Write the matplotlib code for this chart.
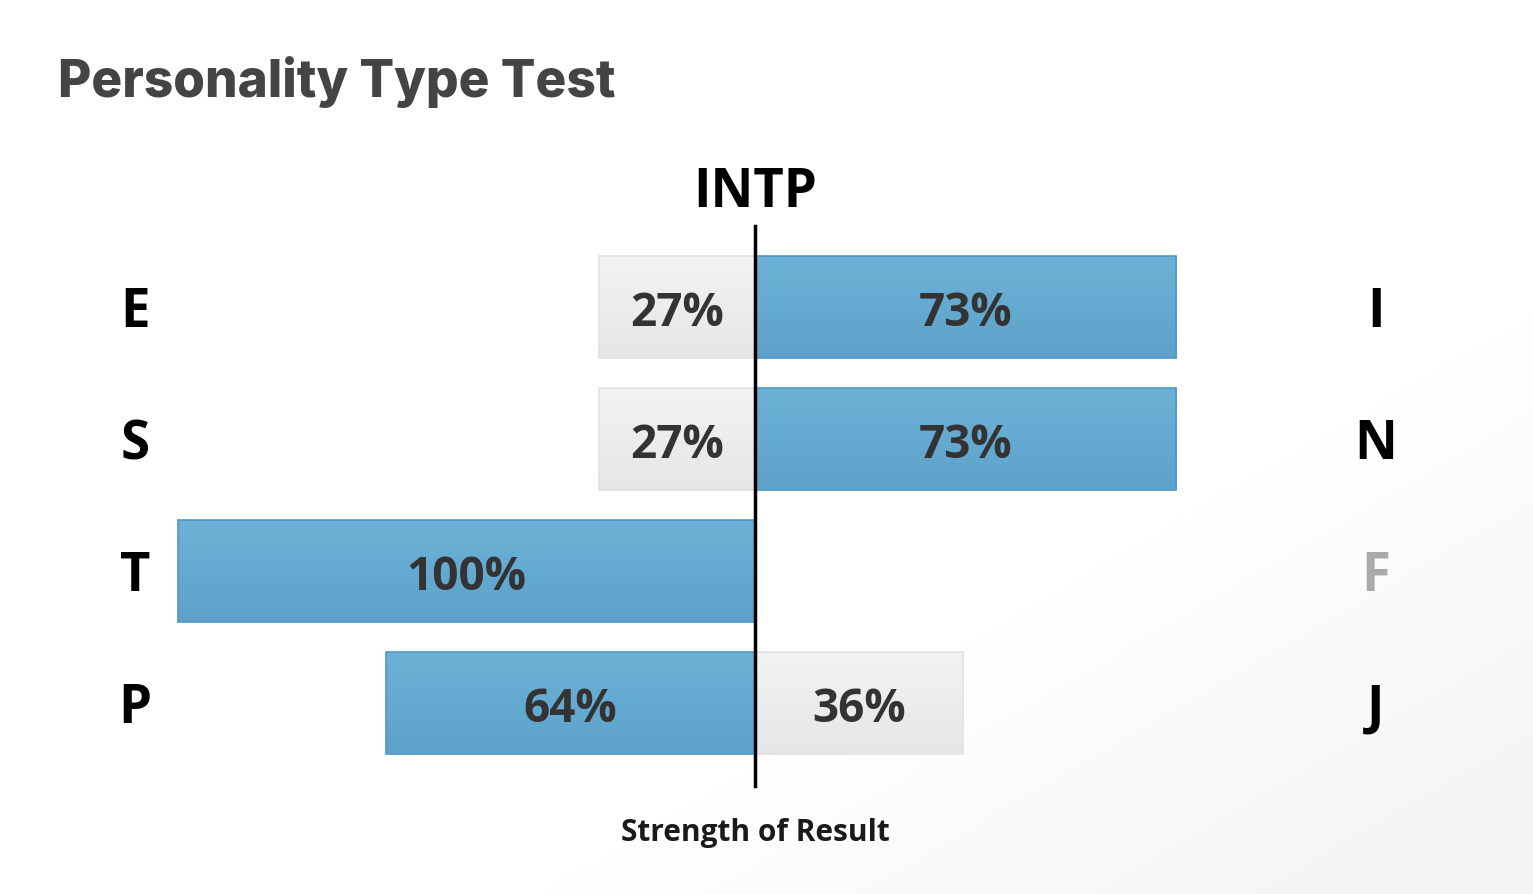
import numpy as np
import matplotlib.pyplot as plt
from matplotlib.colors import LinearSegmentedColormap

# data
left_letters = ['E', 'S', 'T', 'P']
right_letters = ['I', 'N', 'F', 'J']
left_pct = [27, 27, 100, 64]
right_pct = [73, 73, 0, 36]
result_type = 'INTP'

BLUE_TOP, BLUE_BOT, BLUE_EDGE = '#6cb2d6', '#5ea2cb', '#4f98c4'
GRAY_TOP, GRAY_BOT = '#f3f3f3', '#e6e6e6'

fig = plt.figure(figsize=(15.33, 8.95), dpi=100)

# very faint shading toward the lower right corner
bg = fig.add_axes([0, 0, 1, 1], zorder=0)
gx, gy = np.meshgrid(np.linspace(0, 1, 300), np.linspace(0, 1, 200))
shade = np.clip((gx - 0.7) * 1.5 + (gy - 0.6) * 1.5, 0, 1) * 0.05
bg.imshow(1 - shade, cmap='gray', vmin=0, vmax=1, extent=[0, 1, 1, 0], aspect='auto')
bg.set_axis_off()

ax = fig.add_axes([0, 0, 1, 1], zorder=1)
ax.patch.set_alpha(0)
px_per_unit = 5.77
ax.set_xlim(-755 / px_per_unit, (1533 - 755) / px_per_unit)
ax.set_ylim(4.447, -2.333)
ax.set_axis_off()

bar_h = 0.773
dy = 0.04  # nudge labels down a little


def grad_bar(left, width, y, top, bot, edge):
    if width <= 0:
        return
    b = ax.barh(y, width, left=left, height=bar_h, color='none',
                edgecolor=edge, linewidth=1.2, zorder=3)[0]
    cmap = LinearSegmentedColormap.from_list('g', [top, bot])
    im = ax.imshow(np.linspace(0, 1, 50).reshape(-1, 1), cmap=cmap, aspect='auto',
                   extent=[left, left + width, y + bar_h / 2, y - bar_h / 2], zorder=2)
    im.set_clip_path(b)


for i in range(len(left_letters)):
    lp, rp = left_pct[i], right_pct[i]
    if lp > rp:
        grad_bar(-lp, lp, i, BLUE_TOP, BLUE_BOT, BLUE_EDGE)
        grad_bar(0, rp, i, GRAY_TOP, GRAY_BOT, '#e2e2e2')
    else:
        grad_bar(-lp, lp, i, GRAY_TOP, GRAY_BOT, '#e2e2e2')
        grad_bar(0, rp, i, BLUE_TOP, BLUE_BOT, BLUE_EDGE)
    if lp > 0:
        ax.text(-lp / 2, i + dy, f'{lp}%', ha='center', va='center', fontsize=33,
                fontweight='bold', family='Open Sans', color='#333333', zorder=4)
    if rp > 0:
        ax.text(rp / 2, i + dy, f'{rp}%', ha='center', va='center', fontsize=33,
                fontweight='bold', family='Open Sans', color='#333333', zorder=4)
    ax.text(-107.5, i + dy, left_letters[i], ha='center', va='center', fontsize=38,
            fontweight='bold', family='Open Sans',
            color='black' if lp > 0 else '#aaaaaa', zorder=4)
    ax.text(107.6, i + dy, right_letters[i], ha='center', va='center', fontsize=38,
            fontweight='bold', family='Open Sans',
            color='black' if rp > 0 else '#aaaaaa', zorder=4)

ax.plot([0, 0], [-0.614, 3.629], color='black', linewidth=2.5, zorder=5)
ax.text(0, -0.87, result_type, ha='center', va='center', fontsize=38,
        fontweight='bold', family='Open Sans', color='black')
ax.text(0, 3.98, 'Strength of Result', ha='center', va='center', fontsize=21.5,
        fontweight='bold', family='Open Sans', color='#1a1a1a')

fig.text(58 / 1533, 1 - 82 / 895, 'Personality Type Test', ha='left', va='center',
         fontsize=37, fontweight='heavy', family='Inter', color='#444444')

plt.savefig('out.png', dpi=100)
